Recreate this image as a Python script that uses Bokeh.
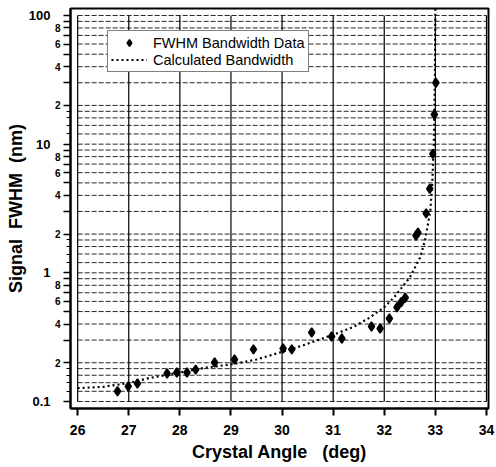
from bokeh.plotting import figure
from bokeh.models import FixedTicker, LogAxis, Legend, LegendItem
from bokeh.embed import file_html
from bokeh.resources import INLINE

# ---- data ----
data_x = [26.78, 26.99, 27.17, 27.75, 27.94, 28.14, 28.31, 28.68, 29.07, 29.44,
          30.02, 30.19, 30.58, 30.97, 31.17, 31.75, 31.92, 32.10, 32.25, 32.33,
          32.41, 32.62, 32.66, 32.82, 32.89, 32.95, 32.98, 33.01]
data_y = [0.120, 0.131, 0.138, 0.165, 0.168, 0.168, 0.177, 0.201, 0.212, 0.254,
          0.258, 0.254, 0.344, 0.320, 0.309, 0.383, 0.369, 0.442, 0.54, 0.59,
          0.64, 1.95, 2.05, 2.9, 4.5, 8.4, 17.0, 30.0]

calc_x = [26.0, 26.5, 27.0, 27.4, 28.0, 28.5, 29.0, 29.5, 30.0, 30.4, 30.7, 31.0,
          31.4, 31.7, 32.0, 32.2, 32.5, 32.7, 32.8, 32.9, 32.94, 32.97, 32.99, 33.0]
calc_y = [0.127, 0.130, 0.139, 0.152, 0.168, 0.183, 0.194, 0.212, 0.243, 0.272,
          0.300, 0.330, 0.380, 0.445, 0.540, 0.650, 0.920, 1.31, 1.80, 3.0,
          5.0, 10.0, 30.0, 115.0]

x_ticks = [26, 27, 28, 29, 30, 31, 32, 33, 34]
decades = [0.1, 1, 10, 100]
decade_labels = ["0.1", "1", "10", "100"]
labeled_mults = [2, 4, 6, 8]
unlabeled_mults = [3, 5, 7, 9]
minor_mults = [1.2, 1.4, 1.6, 1.8]

NB = "\u00a0"
x_title = "Crystal Angle" + NB * 3 + "(deg)"
y_title = "Signal" + NB * 2 + "FWHM" + NB * 2 + "(nm)"
legend_labels = ["FWHM Bandwidth Data", "Calculated Bandwidth"]


def rnd(v):
    return round(v, 6)


inner_major = []
inner_overrides = {}
for d in decades[:-1]:
    for m in labeled_mults:
        v = rnd(m * d)
        inner_major.append(v)
        inner_overrides[v] = str(m)
    for m in unlabeled_mults:
        v = rnd(m * d)
        inner_major.append(v)
        inner_overrides[v] = ""
for d in decades:
    inner_major.append(d)
    inner_overrides[d] = ""
inner_minor = [rnd(m * d) for d in decades[:-1] for m in minor_mults]
grid_y = sorted(inner_major + inner_minor)

FONT = "Liberation Sans"

p = figure(width=496, height=467,
           x_range=(25.86, 34.04), y_range=(0.0882, 113.3),
           y_axis_type="log", output_backend="svg", toolbar_location=None,
           min_border_left=70, min_border_right=8, min_border_top=8,
           min_border_bottom=59)

p.xgrid.visible = False
p.ygrid.visible = False
p.outline_line_color = "black"
p.outline_line_width = 2
p.background_fill_color = "white"
p.border_fill_color = "white"

# grid drawn over the data area only
n_y = len(grid_y)
p.segment(x0=[x_ticks[0]] * n_y, y0=grid_y, x1=[x_ticks[-1]] * n_y, y1=grid_y,
          line_color="black", line_width=1, line_dash="5 2", line_alpha=0.85)
n_x = len(x_ticks)
p.segment(x0=x_ticks, y0=[decades[0]] * n_x, x1=x_ticks, y1=[decades[-1]] * n_x,
          line_color="black", line_width=1.2)

ln = p.line(calc_x, calc_y, line_color="black", line_width=2.2, line_dash="2 3")
sc = p.scatter(data_x, data_y, marker="diamond", size=9,
               fill_color="black", line_color="black", line_width=1.6)

# x axis
xa = p.xaxis[0]
xa.ticker = FixedTicker(ticks=x_ticks, minor_ticks=[])
xa.axis_line_width = 2
xa.major_tick_line_width = 2
xa.major_tick_in = 0
xa.major_tick_out = 7
xa.major_label_standoff = 9
xa.major_label_text_font = FONT
xa.major_label_text_font_style = "bold"
xa.major_label_text_font_size = "14px"
xa.major_label_text_color = "black"
xa.axis_label = x_title
xa.axis_label_text_font = FONT
xa.axis_label_text_font_style = "bold"
xa.axis_label_text_font_size = "18px"
xa.axis_label_text_color = "black"
xa.axis_label_standoff = 4

# inner y axis: ticks and small labels
ya = p.yaxis[0]
ya.ticker = FixedTicker(ticks=inner_major, minor_ticks=inner_minor)
ya.major_label_overrides = inner_overrides
ya.axis_line_width = 2
ya.major_tick_line_width = 1.5
ya.major_tick_in = 0
ya.major_tick_out = 7
ya.minor_tick_in = 0
ya.minor_tick_out = 4
ya.minor_tick_line_width = 1.2
ya.major_label_standoff = 3
ya.major_label_text_font = FONT
ya.major_label_text_font_style = "bold"
ya.major_label_text_font_size = "10px"
ya.major_label_text_color = "black"

# outer y axis: decade labels and title
outer_overrides = {d: lab for d, lab in zip(decades, decade_labels)}
ya2 = LogAxis(ticker=FixedTicker(ticks=decades, minor_ticks=[]),
              major_label_overrides=outer_overrides)
ya2.axis_line_color = None
ya2.major_tick_line_color = None
ya2.minor_tick_line_color = None
ya2.major_tick_in = 0
ya2.major_tick_out = 0
ya2.major_label_standoff = 1
ya2.major_label_text_font = FONT
ya2.major_label_text_font_style = "bold"
ya2.major_label_text_font_size = "13px"
ya2.major_label_text_color = "black"
ya2.axis_label = y_title
ya2.axis_label_text_font = FONT
ya2.axis_label_text_font_style = "bold"
ya2.axis_label_text_font_size = "18px"
ya2.axis_label_text_color = "black"
ya2.axis_label_standoff = 0
p.add_layout(ya2, "left")

legend = Legend(items=[LegendItem(label=legend_labels[0], renderers=[sc]),
                       LegendItem(label=legend_labels[1], renderers=[ln])],
                location=(37, 336))
legend.border_line_color = "black"
legend.border_line_width = 1.5
legend.background_fill_color = "white"
legend.background_fill_alpha = 1.0
legend.label_text_font = FONT
legend.label_text_font_size = "14.5px"
legend.label_text_color = "black"
legend.glyph_width = 36
legend.glyph_height = 17
legend.label_height = 17
legend.label_standoff = 6
legend.spacing = 0
legend.padding = 3
legend.margin = 0
p.add_layout(legend, "center")

open("out.html", "w").write(file_html(p, INLINE))
